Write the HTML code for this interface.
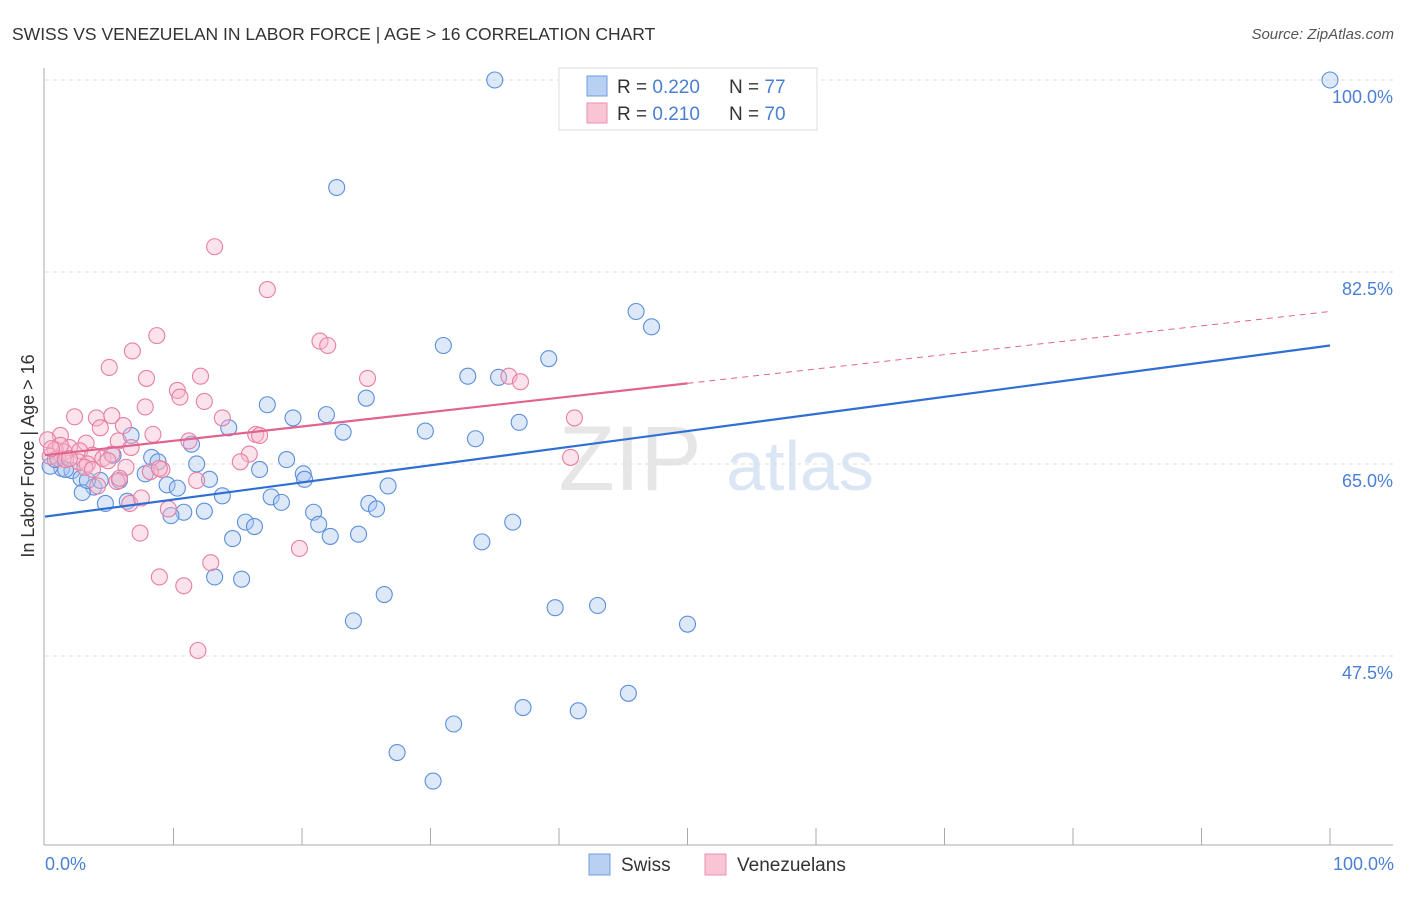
<!DOCTYPE html>
<html><head><meta charset="utf-8"><style>
body{margin:0;background:#fff;font-family:"Liberation Sans",sans-serif;}
svg text{font-family:"Liberation Sans",sans-serif;}
</style></head><body>
<svg width="1406" height="892" xmlns="http://www.w3.org/2000/svg">
<text x="12" y="40" font-size="17.5" fill="#333">SWISS VS VENEZUELAN IN LABOR FORCE | AGE &gt; 16 CORRELATION CHART</text>
<text x="1394" y="39" font-size="15" fill="#555" font-style="italic" text-anchor="end">Source: ZipAtlas.com</text>
<text x="630" y="490" font-size="92" fill="#e6e6e6" font-family="Liberation Serif" text-anchor="middle">ZIP</text>
<text x="800" y="490" font-size="70" fill="#dbe6f5" text-anchor="middle">atlas</text>
<g id="grid"></g>
<g id="axes"></g>
<g id="pts"></g>
<g id="trend"></g>
<text transform="translate(34,456) rotate(-90)" font-size="18" fill="#333" text-anchor="middle">In Labor Force | Age &gt; 16</text>
<text x="45" y="870" font-size="18" fill="#4a7fd4">0.0%</text>
<text x="1394" y="870" font-size="18" fill="#4a7fd4" text-anchor="end">100.0%</text>
<g>
<rect x="559" y="68" width="258" height="62" fill="#fff" stroke="#ddd"/>
<rect x="587" y="76" width="20" height="20" fill="#b8d0f2" stroke="#6f9de0"/>
<rect x="587" y="103" width="20" height="20" fill="#f9c5d5" stroke="#ec8fae"/>
<text x="617" y="93" font-size="19" fill="#333">R = <tspan fill="#4a7fd4">0.220</tspan><tspan x="729">N = </tspan><tspan fill="#4a7fd4">77</tspan></text>
<text x="617" y="120" font-size="19" fill="#333">R = <tspan fill="#4a7fd4"> 0.210</tspan><tspan x="729">N = </tspan><tspan fill="#4a7fd4">70</tspan></text>
</g>
<g>
<rect x="589" y="854" width="21" height="21" fill="#b8d0f2" stroke="#6f9de0"/>
<text x="621" y="871" font-size="19" fill="#333">Swiss</text>
<rect x="705" y="854" width="21" height="21" fill="#f9c5d5" stroke="#ec8fae"/>
<text x="737" y="871" font-size="19" fill="#333">Venezuelans</text>
</g>
</svg>
<script>
const yTicks=[100,82.5,65,47.5];
const yTickLabels=["100.0%","82.5%","65.0%","47.5%"];
const swissX=[35.0,51.2,100,22.7,46.0,47.2,31.0,39.2,32.9,35.3,25.0,17.3,19.3,21.9,36.9,14.3,23.2,29.6,33.5,11.4,6.7,5.3,8.3,8.8,11.8,18.8,16.7,7.8,20.1,20.2,12.8,9.5,10.3,26.7,1.3,2.1,2.8,3.8,4.3,5.8,2.9,4.7,6.4,13.8,17.6,18.4,20.9,25.2,25.8,10.8,12.4,9.8,15.6,16.3,21.3,36.4,14.6,22.2,24.4,34.0,13.2,15.3,26.4,39.7,43.0,50.0,24.0,45.4,37.2,41.5,31.8,27.4,30.2,0.4,0.8,1.6,3.3];
const swissY=[100,100,100,90.2,78.9,77.5,75.8,74.6,73.0,72.9,71.0,70.4,69.2,69.5,68.8,68.3,67.9,68.0,67.3,66.8,67.6,65.8,65.6,65.2,65.0,65.4,64.5,64.1,64.1,63.6,63.6,63.1,62.8,63.0,64.6,64.4,63.7,62.9,63.5,63.5,62.4,61.4,61.6,62.1,62.0,61.5,60.6,61.4,60.9,60.6,60.7,60.3,59.7,59.3,59.5,59.7,58.2,58.4,58.6,57.9,54.7,54.5,53.1,51.9,52.1,50.4,50.7,44.1,42.8,42.5,41.3,38.7,36.1,64.8,65.4,64.5,63.5];
const venX=[13.2,17.3,8.7,6.8,5.0,21.4,22.0,7.9,25.1,12.1,10.3,10.5,12.4,36.1,37.0,7.8,2.3,4.0,5.2,13.8,41.2,6.1,4.3,1.2,8.4,16.4,16.7,0.2,1.9,3.2,5.7,6.7,11.2,0.8,1.5,2.7,3.7,4.5,5.2,15.9,40.9,15.2,0.4,1.0,1.6,2.6,3.3,6.3,9.1,8.2,8.9,11.8,5.6,4.1,6.6,7.5,9.6,7.4,19.8,12.9,8.9,10.8,11.9,1.2,0.5,3.1,4.9,5.8,1.9,3.7];
const venY=[84.8,80.9,76.7,75.3,73.8,76.2,75.8,72.8,72.8,73.0,71.7,71.1,70.7,73.0,72.5,70.2,69.3,69.2,69.4,69.2,69.2,68.5,68.3,67.6,67.7,67.7,67.6,67.2,66.5,66.9,67.1,66.5,67.1,66.3,66.1,66.2,65.8,65.5,65.9,65.9,65.6,65.2,65.7,65.5,65.4,65.2,65.0,64.7,64.5,64.3,64.6,63.5,63.4,63.0,61.4,61.9,60.9,58.7,57.3,56.0,54.7,53.9,48.0,66.7,66.4,64.7,65.3,63.7,65.5,64.5];
const swissTrend=[60.2,75.8];
const venTrend=[65.8,78.9];
const venSolidEnd=50;
const X=v=>45+v*12.85, Y=v=>80+(100-v)*10.971;
const NS="http://www.w3.org/2000/svg";
function mk(t,a,p){const e=document.createElementNS(NS,t);for(const k in a)e.setAttribute(k,a[k]);p.appendChild(e);return e;}
const grid=document.getElementById('grid'),axes=document.getElementById('axes'),pts=document.getElementById('pts'),trend=document.getElementById('trend');
yTicks.forEach((t,i)=>{
 const l=mk('line',{x1:45,x2:1393,y1:Y(t),y2:Y(t),stroke:'#ddd','stroke-dasharray':'4,4'},grid);
 
 
 const tx=mk('text',{x:1393,y:Y(t)+23,'font-size':18,fill:'#4a7fd4','text-anchor':'end'},grid);
 tx.textContent=yTickLabels[i];
 
 
});
const a1=mk('line',{x1:44,x2:44,y1:68,y2:845,stroke:'#aaa'},axes);


const a2=mk('line',{x1:44,x2:1393,y1:845,y2:845,stroke:'#aaa'},axes);


for(let i=1;i<=10;i++){const t=mk('line',{x1:X(i*10),x2:X(i*10),y1:828,y2:845,stroke:'#aaa'},axes);
 
 }
function dots(xs,ys,fill,stroke,name){xs.forEach((x,i)=>{const c=mk('circle',{cx:X(x),cy:Y(ys[i]),r:8,fill:fill,'fill-opacity':0.4,stroke:stroke,'stroke-width':1.1},pts);
 
 });}
dots(swissX,swissY,'#a9c6f0','#5b8fdc','swiss-point');
dots(venX,venY,'#f7b6ca','#e67fa3','venezuelan-point');
const ts=mk('line',{x1:X(0),y1:Y(swissTrend[0]),x2:X(100),y2:Y(swissTrend[1]),stroke:'#2f6fd3','stroke-width':2.2},trend);


const vm=venTrend[0]+(venTrend[1]-venTrend[0])*venSolidEnd/100;
const tv=mk('line',{x1:X(0),y1:Y(venTrend[0]),x2:X(venSolidEnd),y2:Y(vm),stroke:'#e0648f','stroke-width':2.2},trend);


const tvd=mk('line',{x1:X(venSolidEnd),y1:Y(vm),x2:X(100),y2:Y(venTrend[1]),stroke:'#e0648f','stroke-width':1,'stroke-dasharray':'6,5'},trend);


</script>
</body></html>
